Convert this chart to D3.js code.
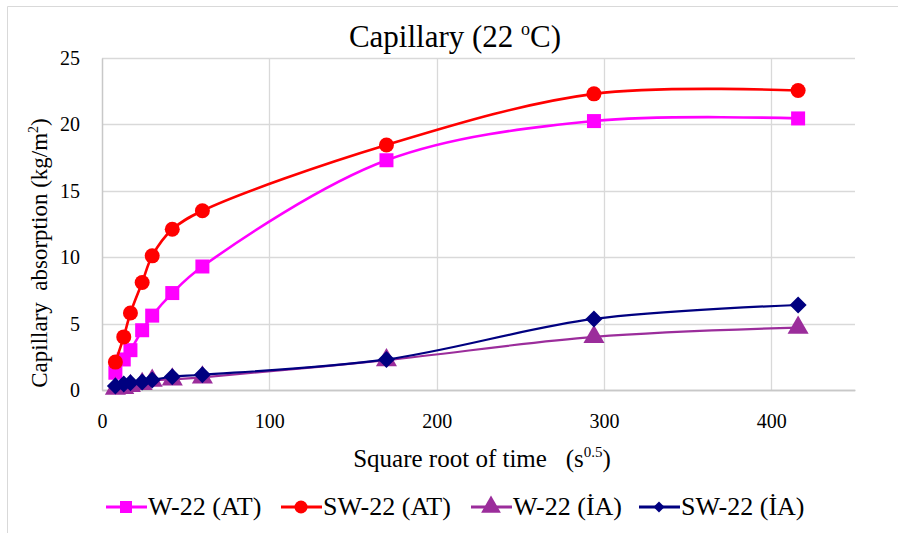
<!DOCTYPE html>
<html>
<head>
<meta charset="utf-8">
<script src="https://cdn.jsdelivr.net/npm/d3@7"></script>
<style>
  html, body { margin: 0; padding: 0; background: #fff; }
  svg { display: block; }
</style>
</head>
<body>
<svg id="chart" width="898" height="533"></svg>
<script>
// Square root of time (s^0.5) at each reading
const sqrtTime = [8, 13, 17, 24, 30, 42, 60, 170, 294, 416];

// Capillary absorption (kg/m²) per mix
const w22AT  = [1.3, 2.3, 3.0, 4.5, 5.6, 7.3, 9.3, 17.3, 20.25, 20.45];
const sw22AT = [2.1, 4.0, 5.8, 8.1, 10.1, 12.1, 13.5, 18.45, 22.3, 22.55];
const w22IA  = [0.1, 0.15, 0.3, 0.45, 0.7, 0.8, 0.95, 2.25, 4.0, 4.7];
const sw22IA = [0.3, 0.45, 0.55, 0.6, 0.75, 1.0, 1.15, 2.3, 5.35, 6.4];

const seriesNames = ["W-22 (AT)", "SW-22 (AT)", "W-22 (İA)", "SW-22 (İA)"];
const xTicks = [0, 100, 200, 300, 400];
const yTicks = [0, 5, 10, 15, 20, 25];

const FONT = "'Liberation Serif', 'Times New Roman', serif";

const series = [
  { name: seriesNames[0], values: w22AT,  color: "#ff00ff", shape: "square",   width: 2.6 },
  { name: seriesNames[1], values: sw22AT, color: "#ff0000", shape: "circle",   width: 2.6 },
  { name: seriesNames[2], values: w22IA,  color: "#9b2d9b", shape: "triangle", width: 2.2 },
  { name: seriesNames[3], values: sw22IA, color: "#000080", shape: "diamond",  width: 2.2 }
];

const svg = d3.select("#chart");

// outer chart frame
svg.append("path")
  .attr("d", "M7.5,540 V6.5 H905")
  .attr("fill", "none").attr("stroke", "#d9d9d9").attr("stroke-width", 1);

const plot = { left: 102, right: 855, top: 58, bottom: 390 };

const x = d3.scaleLinear().domain([0, 450]).range([plot.left, plot.right]);
const y = d3.scaleLinear().domain([0, 25]).range([plot.bottom, plot.top]);

// gridlines
const grid = svg.append("g");
grid.selectAll(".hg").data(yTicks.filter(d => d > 0)).join("line")
  .attr("x1", plot.left).attr("x2", plot.right)
  .attr("y1", d => Math.round(y(d)) + 0.5).attr("y2", d => Math.round(y(d)) + 0.5)
  .attr("stroke", "#d9d9d9").attr("stroke-width", 1.3);
grid.selectAll(".vg").data(xTicks.filter(d => d > 0)).join("line")
  .attr("x1", d => Math.round(x(d)) + 0.5).attr("x2", d => Math.round(x(d)) + 0.5)
  .attr("y1", plot.top).attr("y2", plot.bottom)
  .attr("stroke", "#d9d9d9").attr("stroke-width", 1.3);

// axes
const xAxis = svg.append("g")
  .attr("transform", `translate(0,${plot.bottom})`)
  .call(d3.axisBottom(x).tickValues(xTicks).tickSize(0).tickPadding(24));
const yAxis = svg.append("g")
  .attr("transform", `translate(${plot.left},0)`)
  .call(d3.axisLeft(y).tickValues(yTicks).tickSize(0).tickPadding(22));
[xAxis, yAxis].forEach(a => {
  a.select(".domain").attr("stroke", "#c8c8c8").attr("stroke-width", 1.5);
  a.selectAll("text")
    .style("font-family", FONT).style("font-size", "20px").attr("fill", "#000");
});
svg.append("line")
  .attr("x1", plot.left).attr("x2", plot.right)
  .attr("y1", plot.bottom + 0.5).attr("y2", plot.bottom + 0.5)
  .attr("stroke", "#c8c8c8").attr("stroke-width", 1.5);

// smoothed series lines
const line = d3.line()
  .x((d, i) => x(sqrtTime[i]))
  .y(d => y(d))
  .curve(d3.curveCatmullRom.alpha(0.5));

function marker(shape, s) {
  if (shape === "square") return d3.symbol().type(d3.symbolSquare).size(s * s)();
  if (shape === "circle") return d3.symbol().type(d3.symbolCircle).size(Math.PI * s * s / 4)();
  if (shape === "triangle") return d3.symbol().type(d3.symbolTriangle).size(s * s * 0.75)();
  const h = s / 2; // rotated square
  return `M0,${-h}L${h},0L0,${h}L${-h},0Z`;
}
const markerSize = { square: 14, circle: 15, triangle: 16, diamond: 17 };

series.forEach(s => {
  const g = svg.append("g");
  g.append("path")
    .attr("d", line(s.values))
    .attr("fill", "none").attr("stroke", s.color)
    .attr("stroke-width", s.width).attr("stroke-linejoin", "round");
  g.selectAll("path.m").data(s.values).join("path")
    .attr("class", "m")
    .attr("transform", (d, i) => `translate(${x(sqrtTime[i])},${y(d)})`)
    .attr("d", marker(s.shape, markerSize[s.shape]))
    .attr("fill", s.color);
});

function label(sel) {
  return sel.style("font-family", FONT).attr("fill", "#000");
}

// title
const title = label(svg.append("text"))
  .attr("x", 455).attr("y", 47).attr("text-anchor", "middle")
  .style("font-size", "31px");
title.append("tspan").text("Capillary (22 ");
title.append("tspan").style("font-size", "18px").attr("dy", -12).text("o");
title.append("tspan").attr("dy", 12).text("C)");

// y axis title
const yTitle = label(svg.append("text"))
  .attr("transform", "translate(47,253) rotate(-90)")
  .attr("text-anchor", "middle").style("font-size", "23px")
  .style("white-space", "pre");
yTitle.append("tspan").text("Capillary  absorption (kg/m");
yTitle.append("tspan").style("font-size", "14px").attr("dy", -9).text("2");
yTitle.append("tspan").attr("dy", 9).text(")");

// x axis title
const xTitle = label(svg.append("text"))
  .attr("x", 482).attr("y", 467).attr("text-anchor", "middle")
  .style("font-size", "25px").style("white-space", "pre");
xTitle.append("tspan").text("Square root of time   (s");
xTitle.append("tspan").style("font-size", "15px").attr("dy", -10).text("0.5");
xTitle.append("tspan").attr("dy", 10).text(")");

// legend
const legendX = [106, 281, 471, 639];
const legendMarker = { square: 12, circle: 13, triangle: 15, diamond: 11 };
const legend = svg.append("g");
series.forEach((s, i) => {
  const g = legend.append("g").attr("transform", `translate(${legendX[i]},507)`);
  g.append("line").attr("x1", 0).attr("x2", 41).attr("y1", 0).attr("y2", 0)
    .attr("stroke", s.color).attr("stroke-width", s.width + 0.6);
  g.append("path").attr("transform", "translate(20,0)")
    .attr("d", marker(s.shape, legendMarker[s.shape])).attr("fill", s.color);
  label(g.append("text")).attr("x", 42).attr("y", 8)
    .style("font-size", "26px").text(s.name);
});
</script>
</body>
</html>
